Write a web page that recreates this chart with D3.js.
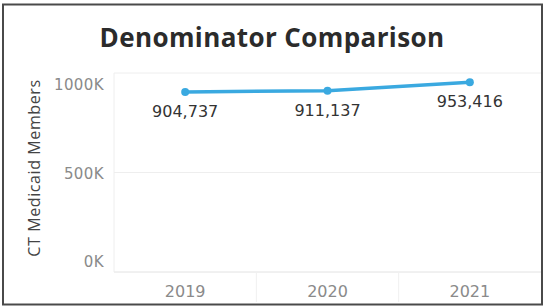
<!DOCTYPE html>
<html>
<head>
  <style>
    body { margin: 0; background: #fff; }
    svg { display: block; }
  </style>
</head>
<body>
  <svg width="544" height="307"></svg>
  <script src="https://cdn.jsdelivr.net/npm/d3@7"></script>
  <script>
    // Datos
    const years = ["2019", "2020", "2021"];
    const members = [904737, 911137, 953416];
    const yTicks = [0, 500000, 1000000];

    const svg = d3.select("svg");
    const font = "'Open Sans', sans-serif";
    const numFont = "'DejaVu Sans', sans-serif";
    const blue = "#3aa9e0";

    // marco
    svg.append("rect")
      .attr("x", 3).attr("y", 4.5).attr("width", 539).attr("height", 300)
      .attr("fill", "#fff").attr("stroke", "#4a4a4a").attr("stroke-width", 2);

    svg.append("text")
      .attr("x", 272).attr("y", 47)
      .attr("text-anchor", "middle")
      .attr("font-family", font).attr("font-weight", "bold")
      .attr("font-size", 26).attr("letter-spacing", 0.4).attr("fill", "#2b2b2b")
      .text("Denominator Comparison");

    const plotL = 114, plotR = 541, plotT = 73, plotB = 272;

    const x = d3.scaleBand().domain(years).range([plotL, plotR]);
    const y = d3.scaleLinear().domain([0, 1000000]).range([plotB, plotT]);

    // rejilla
    svg.selectAll(".grid")
      .data(yTicks)
      .enter().append("line")
      .attr("x1", plotL).attr("x2", plotR)
      .attr("y1", d => y(d)).attr("y2", d => y(d))
      .attr("stroke", d => d === 0 ? "#e2e2e2" : "#eeeeee")
      .attr("stroke-width", 1);

    svg.append("line")
      .attr("x1", plotL).attr("x2", plotL).attr("y1", plotT).attr("y2", plotB)
      .attr("stroke", "#eeeeee");

    svg.selectAll(".div")
      .data(years.slice(1))
      .enter().append("line")
      .attr("x1", d => x(d)).attr("x2", d => x(d))
      .attr("y1", plotB).attr("y2", plotB + 30)
      .attr("stroke", "#f0f0f0");

    // etiquetas eje y (Tableau las recorta dentro del panel)
    svg.selectAll(".ytick")
      .data(yTicks)
      .enter().append("text")
      .attr("x", 104)
      .attr("y", d => d === 1000000 ? y(d) + 17 : d === 0 ? y(d) - 5 : y(d) + 6)
      .attr("text-anchor", "end")
      .attr("font-family", numFont).attr("font-size", 15).attr("letter-spacing", 0.4)
      .attr("fill", "#8a8a8a")
      .text(d => d3.format(".0f")(d / 1000) + "K");

    svg.append("text")
      .attr("transform", "translate(40,168) rotate(-90)")
      .attr("text-anchor", "middle")
      .attr("font-family", font).attr("font-size", 16).attr("letter-spacing", 0.6)
      .attr("fill", "#444")
      .text("CT Medicaid Members");

    // etiquetas eje x
    svg.selectAll(".xtick")
      .data(years)
      .enter().append("text")
      .attr("x", d => x(d) + x.bandwidth() / 2)
      .attr("y", 297)
      .attr("text-anchor", "middle")
      .attr("font-family", numFont).attr("font-size", 16).attr("fill", "#8a8a8a")
      .text(d => d);

    const pts = years.map((yr, i) => ({ yr, v: members[i] }));
    const cx = d => x(d.yr) + x.bandwidth() / 2;

    svg.append("path")
      .datum(pts)
      .attr("fill", "none")
      .attr("stroke", blue)
      .attr("stroke-width", 3.5)
      .attr("d", d3.line().x(cx).y(d => y(d.v)));

    svg.selectAll(".pt")
      .data(pts)
      .enter().append("circle")
      .attr("cx", cx).attr("cy", d => y(d.v)).attr("r", 4)
      .attr("fill", blue);

    svg.selectAll(".lbl")
      .data(pts)
      .enter().append("text")
      .attr("x", cx).attr("y", d => y(d.v) + 25)
      .attr("text-anchor", "middle")
      .attr("font-family", numFont).attr("font-size", 16).attr("fill", "#333")
      .text(d => d3.format(",")(d.v));
  </script>
</body>
</html>
